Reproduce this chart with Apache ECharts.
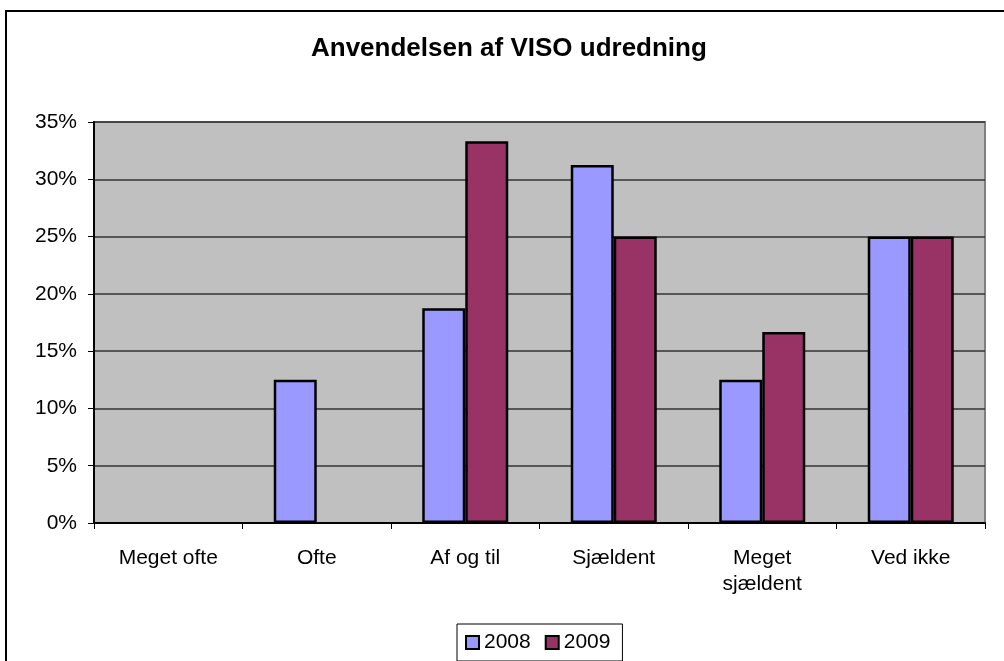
<!DOCTYPE html>
<html>
<head>
<meta charset="utf-8">
<script src="https://cdn.jsdelivr.net/npm/echarts@6/dist/echarts.min.js"></script>
<style>
    html, body { margin: 0; padding: 0; background: #fff; }
    #frame {
        position: absolute;
        left: 5px;
        top: 10px;
        width: 1100px;
        height: 800px;
        border: 2px solid #000;
        box-sizing: border-box;
    }
    #chart {
        position: absolute;
        left: 0;
        top: 0;
        width: 1004px;
        height: 661px;
    }
</style>
</head>
<body>
<div id="frame"></div>
<div id="chart"></div>
<script>
var categories = ['Meget ofte', 'Ofte', 'Af og til', 'Sjældent', 'Meget\nsjældent', 'Ved ikke']
var values2008 = [0, 12.5, 18.75, 31.25, 12.5, 25]
var values2009 = [0, 0, 33.33, 25, 16.67, 25]
var yTicks = [0, 5, 10, 15, 20, 25, 30, 35]

// zero bars are not drawn at all (no stroke on the baseline)
function noZero(arr) {
    return arr.map(function (v) { return v === 0 ? '-' : v })
}

var chart = echarts.init(document.getElementById('chart'))
chart.setOption({
    animation: false,
    title: {
        text: 'Anvendelsen af VISO udredning',
        left: 306,
        top: 31,
        textStyle: {
            fontFamily: 'Liberation Sans',
            fontSize: 26,
            fontWeight: 'bold',
            color: '#000'
        }
    },
    legend: {
        data: ['2008', '2009'],
        left: 457,
        top: 624,
        padding: [8, 12, 8, 8],
        itemGap: 14,
        itemWidth: 13,
        itemHeight: 13,
        borderColor: '#000',
        borderWidth: 1,
        icon: 'rect',
        itemStyle: { borderColor: '#000', borderWidth: 2 },
        textStyle: {
            fontFamily: 'Liberation Sans',
            fontSize: 21,
            color: '#000'
        }
    },
    grid: {
        left: 94,
        top: 122,
        right: 19,
        bottom: 138,
        show: true,
        backgroundColor: '#C0C0C0',
        borderColor: '#808080',
        borderWidth: 2
    },
    xAxis: {
        type: 'category',
        data: categories,
        axisLine: { lineStyle: { color: '#000', width: 2 } },
        axisTick: { show: true, length: 6, lineStyle: { color: '#000' } },
        axisLabel: {
            margin: 22,
            fontFamily: 'Liberation Sans',
            fontSize: 21,
            color: '#000',
            lineHeight: 26
        }
    },
    yAxis: {
        type: 'value',
        min: 0,
        max: 35,
        interval: 5,
        axisLine: { show: true, lineStyle: { color: '#000', width: 2 } },
        axisTick: { show: true, length: 6, lineStyle: { color: '#000' } },
        splitLine: { lineStyle: { color: '#333', width: 1.5 } },
        axisLabel: {
            margin: 17,
            fontFamily: 'Liberation Sans',
            fontSize: 21,
            color: '#000',
            customValues: yTicks,
            formatter: '{value}%'
        }
    },
    series: [
        {
            name: '2008',
            type: 'bar',
            data: noZero(values2008),
            barWidth: 43,
            barGap: '0%',
            itemStyle: { color: '#9999FF', borderColor: '#000', borderWidth: 2.5 }
        },
        {
            name: '2009',
            type: 'bar',
            data: noZero(values2009),
            barWidth: 43,
            barGap: '0%',
            itemStyle: { color: '#993366', borderColor: '#000', borderWidth: 2.5 }
        }
    ]
})
</script>
</body>
</html>
